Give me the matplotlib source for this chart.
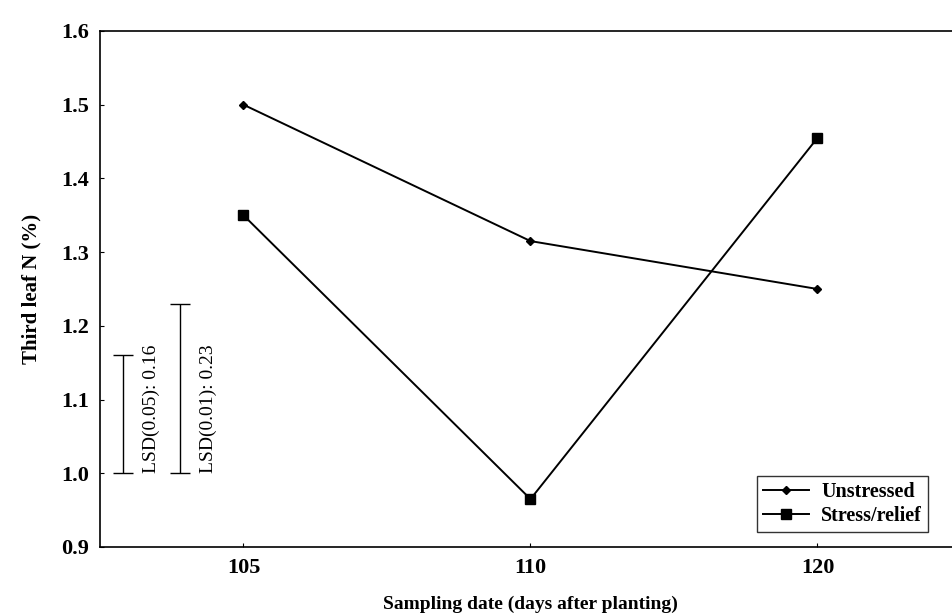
import matplotlib
matplotlib.use("Agg")
import matplotlib.pyplot as plt

days = ["105", "110", "120"]
unstressed = [1.50, 1.315, 1.25]
stress_relief = [1.35, 0.965, 1.455]
lsd_labels = ["LSD(0.05): 0.16", "LSD(0.01): 0.23"]
lsd_values = [0.16, 0.23]
lsd_base = 1.0

plt.rcParams['font.family'] = ['Liberation Serif', 'DejaVu Serif']

fig = plt.figure(figsize=(9.53, 6.16), dpi=100)
ax = fig.add_axes([100/953, 1-547/616, (961-100)/953, (547-31)/616])

x = list(range(len(days)))
ax.plot(x, unstressed, color='black', lw=1.4, marker='D', ms=4.5, label='Unstressed')
ax.plot(x, stress_relief, color='black', lw=1.4, marker='s', ms=7, label='Stress/relief')

# LSD bars (x positions in data coords)
lsd_x = [-0.42, -0.222]
for xi, v, lab in zip(lsd_x, lsd_values, lsd_labels):
    ax.errorbar([xi], [lsd_base + v/2], yerr=[[v/2], [v/2]], fmt='none',
                ecolor='black', elinewidth=1.0, capsize=7.5, capthick=1.0)
    ax.text(xi + 0.1, lsd_base, lab, rotation=90, ha='center', va='bottom',
            fontsize=14)

ax.set_xlim(-0.5, 2.5)
ax.set_ylim(0.9, 1.6)
ax.set_xticks(x)
ax.set_xticklabels(days)
ax.set_yticks([0.9, 1.0, 1.1, 1.2, 1.3, 1.4, 1.5, 1.6])
ax.set_yticklabels(['0.9', '1.0', '1.1', '1.2', '1.3', '1.4', '1.5', '1.6'])
ax.tick_params(axis='both', direction='in', length=3, width=0.8,
               labelsize=16, pad=8)
for lab in ax.get_xticklabels() + ax.get_yticklabels():
    lab.set_fontweight('bold')

ax.spines['right'].set_visible(False)
for s in ['left', 'top', 'bottom']:
    ax.spines[s].set_linewidth(1.2)

ax.set_xlabel('Sampling date (days after planting)', fontsize=14,
              fontweight='bold', labelpad=13)
ax.set_ylabel('Third leaf N (%)', fontsize=15, fontweight='bold', labelpad=14)

leg = ax.legend(loc='lower right', bbox_to_anchor=(928/953, 1-532/616),
                bbox_transform=fig.transFigure, frameon=True, fancybox=False,
                edgecolor='black', fontsize=14.5, handlelength=2.3,
                borderpad=0.3, labelspacing=0.2, handletextpad=0.6,
                borderaxespad=0)
for t in leg.get_texts():
    t.set_fontweight('bold')
leg.get_frame().set_linewidth(1.0)

fig.savefig('out.png', dpi=100)
